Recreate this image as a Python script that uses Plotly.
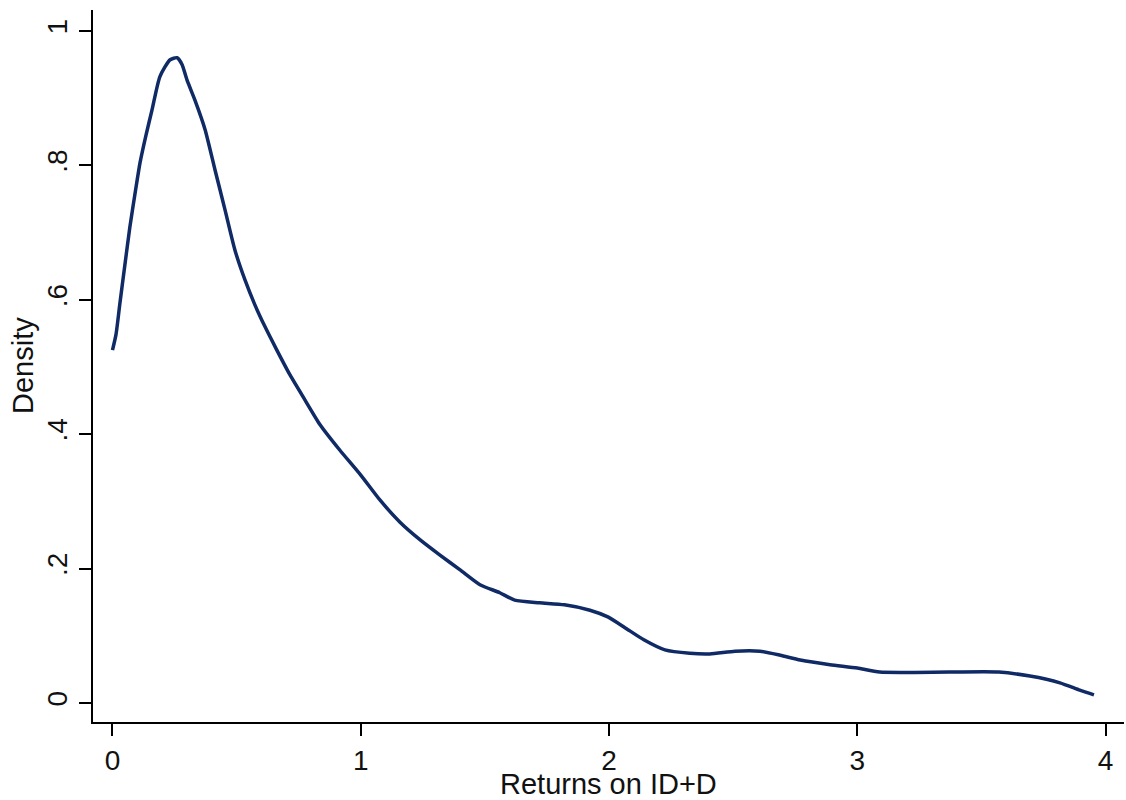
import plotly.graph_objects as go

# Kernel density estimate of "Returns on ID+D"
returns_x = [0.0, 0.014, 0.03, 0.05, 0.07, 0.09, 0.111, 0.135, 0.159, 0.191, 0.232, 0.26,
             0.28, 0.30, 0.332, 0.373, 0.413, 0.453, 0.493, 0.534, 0.574, 0.614,
             0.662, 0.715, 0.775, 0.836, 0.916, 1.0, 1.077, 1.158, 1.238, 1.319, 1.40,
             1.48, 1.56, 1.62, 1.72, 1.82, 1.923, 1.995, 2.064, 2.14, 2.225, 2.325, 2.406,
             2.507, 2.608, 2.69, 2.77, 2.89, 3.0, 3.09, 3.37, 3.57, 3.695, 3.816, 3.896, 3.953]
density_y = [0.525, 0.548, 0.595, 0.652, 0.708, 0.756, 0.804, 0.845, 0.882, 0.932, 0.957, 0.960,
             0.950, 0.927, 0.897, 0.853, 0.793, 0.734, 0.674, 0.629, 0.592, 0.560,
             0.525, 0.488, 0.451, 0.414, 0.376, 0.339, 0.302, 0.269, 0.243, 0.220, 0.198,
             0.176, 0.164, 0.153, 0.149, 0.146, 0.138, 0.128, 0.112, 0.094, 0.079, 0.074, 0.073,
             0.077, 0.077, 0.071, 0.064, 0.057, 0.052, 0.046, 0.046, 0.046, 0.040, 0.030, 0.019, 0.012]

x_ticks = [0, 1, 2, 3, 4]
x_ticklabels = ["0", "1", "2", "3", "4"]
y_ticks = [0, 0.2, 0.4, 0.6, 0.8, 1.0]
y_ticklabels = ["0", ".2", ".4", ".6", ".8", "1"]
x_title = "Returns on ID+D"
y_title = "Density"

font_family = "Liberation Sans, Arial, sans-serif"
fsize = 28

fig = go.Figure()
fig.add_trace(go.Scatter(
    x=returns_x, y=density_y, mode="lines",
    line=dict(color="#102a66", width=3.5, shape="spline", smoothing=0.6),
    showlegend=False, hoverinfo="x+y",
))

fig.update_layout(
    width=1126, height=800,
    margin=dict(l=93, r=2, t=10, b=78),
    paper_bgcolor="white", plot_bgcolor="white",
    font=dict(family=font_family, size=fsize, color="#111111"),
    annotations=[
        dict(text=x_title, xref="paper", yref="paper", x=0.5, y=0,
             xanchor="center", yanchor="middle", yshift=-62, showarrow=False,
             font=dict(size=29)),
        dict(text=y_title, xref="paper", yref="paper", x=0, y=0.5,
             xanchor="center", yanchor="middle", xshift=-70, textangle=-90,
             showarrow=False, font=dict(size=29)),
    ],
)

fig.update_xaxes(
    range=[-0.0785, 4.074], tickvals=x_ticks, ticktext=x_ticklabels,
    showline=True, linecolor="black", linewidth=2,
    ticks="outside", ticklen=12, tickwidth=2, tickcolor="black",
    showgrid=False, zeroline=False, automargin=False,
    tickfont=dict(size=fsize), ticklabelstandoff=0,
)
fig.update_yaxes(
    range=[-0.0283, 1.031], tickvals=y_ticks, ticktext=y_ticklabels,
    showline=True, linecolor="black", linewidth=2,
    ticks="outside", ticklen=12, tickwidth=2, tickcolor="black",
    showgrid=False, zeroline=False, automargin=False,
    tickangle=-90, tickfont=dict(size=fsize), ticklabelstandoff=1,
)

fig.write_html("out.html")
